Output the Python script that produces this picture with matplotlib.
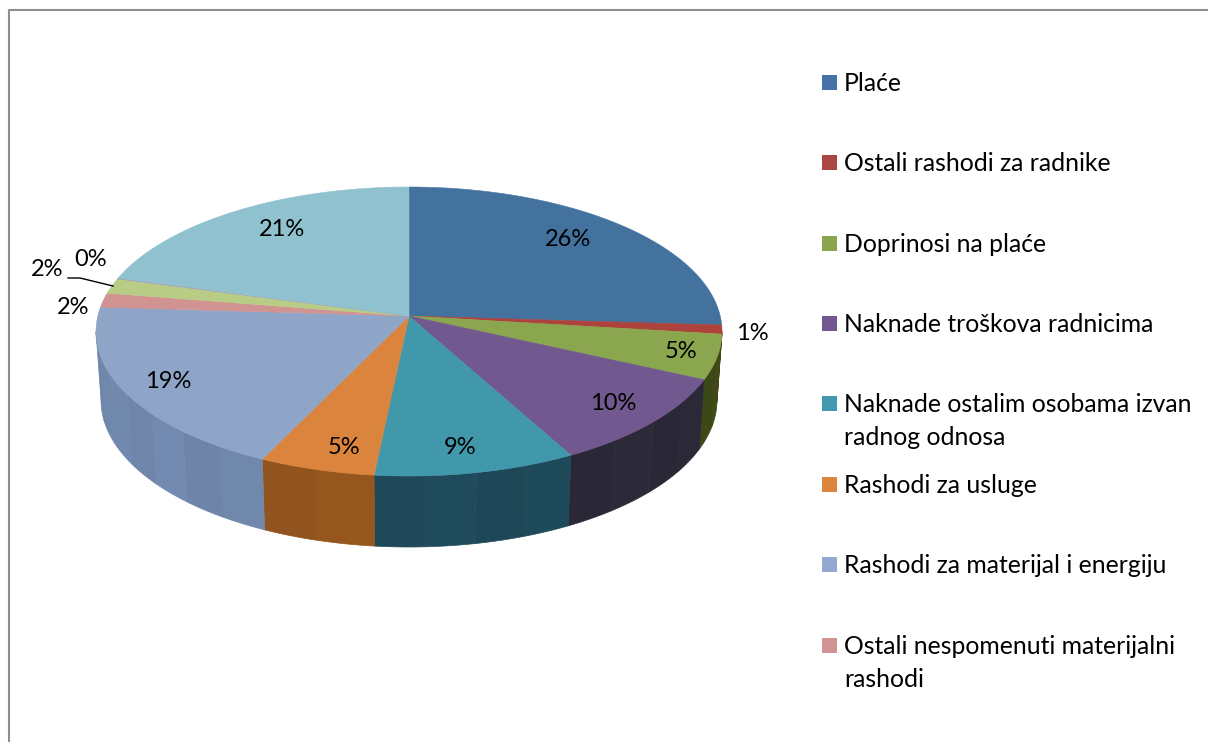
import numpy as np
import matplotlib
matplotlib.use("Agg")
import matplotlib.pyplot as plt
from matplotlib.patches import Rectangle

plt.rcParams['font.family'] = ['Lato', 'DejaVu Sans']

# slice values, percent of total (label is the rounded value)
values = [26.0, 1.0, 5.0, 10.2, 9.4, 5.4, 19.0, 1.6, 1.7, 0.1, 20.6]
top_colors = ['#44729F', '#AE423C', '#8AA64E', '#71588F', '#4198AB', '#DB843D',
              '#8FA5C8', '#D19392', '#B9CC85', '#A99BBD', '#8FC1CF']
side_colors = ['#2C4A68', '#702B27', '#3F4A18', '#2B2838', '#1F4A5A', '#96571F',
               '#7188AD', '#8A5F5E', '#7A8658', '#6F657C', '#5E7F88']
legend_labels = ['Plaće', 'Ostali rashodi za radnike', 'Doprinosi na plaće',
                 'Naknade troškova radnicima',
                 'Naknade ostalim osobama izvan\nradnog odnosa',
                 'Rashodi za usluge', 'Rashodi za materijal i energiju',
                 'Ostali nespomenuti materijalni\nrashodi']
legend_colors = ['#4572A7', '#AA4643', '#89A54E', '#71588F', '#4198AF', '#DB843D',
                 '#93A9CF', '#D19392']
legend_y = [82, 162, 243, 323, 403, 484, 564, 645]
label_pos = [(568, 240), (681, 352), (752, 333), (613, 403), (460, 448), (344, 447),
             (168, 382), (73, 308), (47, 270), (91, 260), (282, 229)]
label_slice = [0, 2, 1, 3, 4, 5, 6, 7, 8, 9, 10]

# pie geometry in pixels
TOP = dict(cx=409, cy=331.5, rx=313, ry=144.5)
BOTTOM = dict(cx=409, cy=400, rx=308, ry=147)
HUB_Y = 316
K = (TOP['cy'] - HUB_Y) / TOP['ry']
BANDS = [1.0, 0.97, 1.02, 0.985, 1.01]


def rim(t, g):
    # clockwise angle from the back of the disc, projected with perspective
    u, v = np.sin(t), np.cos(t)
    w = 1 + K * v
    x = g['cx'] + g['rx'] * np.sqrt(1 - K ** 2) * u / w
    y = g['cy'] - (g['ry'] * v + g['ry'] * K) / w
    return x, y


def shade(color, f):
    rgb = np.array(matplotlib.colors.to_rgb(color)) * f
    return tuple(np.clip(rgb, 0, 1))


fig = plt.figure(figsize=(12.08, 7.42), dpi=100)
ax = fig.add_axes([0, 0, 1, 1])
ax.set_xlim(0, 1208)
ax.set_ylim(742, 0)
ax.axis('off')

# chart frame
ax.plot([9.3, 9.3, 1208], [742, 10, 10], color='#8E8E8E', lw=1.5, solid_capstyle='butt')

edges = np.cumsum([0] + values) / sum(values) * 2 * np.pi

# only the front of the wall shows, between the two widest points of the rim
front_start = np.arccos(-K)
front_end = 2 * np.pi - front_start

# side wall, drawn in strips so it shows the banding of the original
for i, color in enumerate(side_colors):
    t0, t1 = max(edges[i], front_start), min(edges[i + 1], front_end)
    if t1 <= t0:
        continue
    n = max(1, int((t1 - t0) / 0.14))
    cuts = np.linspace(t0, t1, n + 1)
    for j in range(n):
        t = np.linspace(cuts[j], cuts[j + 1], 12)
        xt, yt = rim(t, TOP)
        xb, yb = rim(t, BOTTOM)
        c = shade(color, BANDS[j % len(BANDS)])
        ax.fill(np.r_[xt, xb[::-1]], np.r_[yt, yb[::-1]], color=c, lw=0.5, zorder=2)

# top face
for i, color in enumerate(top_colors):
    t = np.linspace(edges[i], edges[i + 1], 80)
    x, y = rim(t, TOP)
    ax.fill(np.r_[TOP['cx'], x], np.r_[HUB_Y, y], color=color, lw=0.4, zorder=3)

# data labels
for (x, y), i in zip(label_pos, label_slice):
    ax.text(x, y, f'{round(values[i])}%', ha='center', va='center',
            fontsize=17, color='black', zorder=5)

# leader line of the second 2% label
ax.plot([68, 80, 113], [278, 278, 286], color='black', lw=1, zorder=5)

# legend
for label, color, y in zip(legend_labels, legend_colors, legend_y):
    ax.add_patch(Rectangle((822, y - 7.5), 15, 15, facecolor=color, edgecolor='none'))
    ax.text(844, y - 10, label, ha='left', va='top', fontsize=17.8,
            color='black', linespacing=1.55)

fig.savefig('out.png', dpi=100)
